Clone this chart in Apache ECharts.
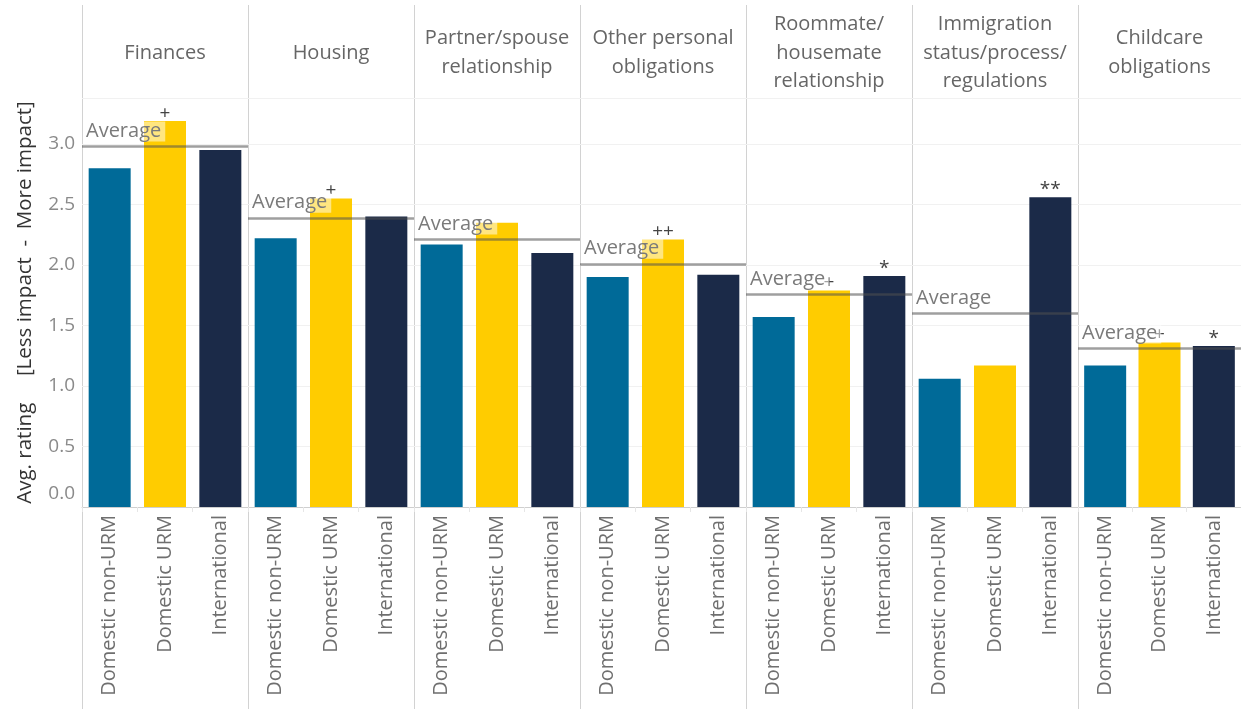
<!DOCTYPE html>
<html>
<head>
<meta charset="utf-8">
<script src="https://cdn.jsdelivr.net/npm/echarts@6/dist/echarts.min.js"></script>
<style>
  html, body { margin: 0; padding: 0; background: #fff; }
  #chart { width: 1241px; height: 709px; }
</style>
</head>
<body>
<div id="chart"></div>
<script>
// panels (columns) and groups (bars inside each panel)
const panels = ['Finances', 'Housing', 'Partner/spouse\nrelationship', 'Other personal\nobligations',
  'Roommate/\nhousemate\nrelationship', 'Immigration\nstatus/process/\nregulations', 'Childcare\nobligations'];
const groups = ['Domestic non-URM', 'Domestic URM', 'International'];
const nonUrm = [2.80, 2.22, 2.17, 1.90, 1.57, 1.06, 1.17];
const urm = [3.19, 2.55, 2.35, 2.21, 1.79, 1.17, 1.36];
const intl = [2.95, 2.40, 2.10, 1.92, 1.91, 2.56, 1.33];
const average = [2.98, 2.39, 2.21, 2.01, 1.76, 1.60, 1.31];
// significance markers shown above bars
const nonUrmMark = ['', '', '', '', '', '', ''];
const urmMark = ['+', '+', '', '++', '+', '', '+'];
const intlMark = ['', '', '', '', '*', '**', '*'];

const colors = ['#006a98', '#ffcc00', '#1b2a48'];
const font = '"Open Sans", "Noto Sans", sans-serif';

const chart = echarts.init(document.getElementById('chart'));

const x0 = 82, panelW = 166, gridTop = 98, axisY = 507;
let grids = [], xAxes = [], yAxes = [], series = [], graphics = [];

for (let i = 0; i < panels.length; i++) {
  let left = x0 + panelW * i;
  let w = i == panels.length - 1 ? 1241 - left : panelW;
  grids.push({ left: left, width: w, top: gridTop, bottom: 709 - axisY });
  xAxes.push({
    gridIndex: i,
    type: 'category',
    data: groups,
    axisLine: { lineStyle: { color: '#cfcfcf' } },
    axisTick: { show: true, length: 5, lineStyle: { color: '#e6e6e6' } },
    axisLabel: { rotate: 90, fontSize: 20, color: '#6f6f6f', fontFamily: font, margin: 8 }
  });
  yAxes.push({
    gridIndex: i,
    type: 'value',
    min: 0,
    max: 3.38,
    interval: 0.5,
    name: i == 0 ? 'Avg. rating     [Less impact  -  More impact]' : '',
    nameLocation: 'middle',
    nameGap: 46,
    nameTextStyle: { fontSize: 20.5, color: '#333', fontFamily: font },
    axisLine: { show: false },
    axisTick: { show: false },
    splitLine: { lineStyle: { color: '#f1f1f1' } },
    axisLabel: {
      show: i == 0,
      fontSize: 19,
      color: '#8a8a8a',
      fontFamily: font,
      margin: 7,
      formatter: function (v) {
        if (Math.abs(v * 2 - Math.round(v * 2)) > 1e-6) return '';
        return v == 0 ? '{z|0.0}' : v.toFixed(1);
      },
      rich: { z: { fontSize: 19, color: '#8a8a8a', fontFamily: font, padding: [0, 0, 26, 0] } }
    }
  });
  let vals = [nonUrm[i], urm[i], intl[i]];
  let marks = [nonUrmMark[i], urmMark[i], intlMark[i]];
  series.push({
    type: 'bar',
    xAxisIndex: i,
    yAxisIndex: i,
    barWidth: 42,
    data: vals.map((v, k) => ({
      value: v,
      itemStyle: { color: colors[k] },
      label: {
        show: marks[k] != '',
        position: 'top',
        distance: -2,
        formatter: marks[k],
        fontSize: 19,
        color: '#444',
        fontFamily: font
      }
    })),
    markLine: {
      silent: true,
      symbol: 'none',
      z: 10,
      lineStyle: { color: 'rgba(80,80,80,0.55)', width: 2.5, type: 'solid' },
      label: {
        show: true,
        position: 'insideStartTop',
        distance: [2, 5],
        formatter: 'Average',
        fontSize: 20,
        color: '#7a7a7a',
        fontFamily: font,
        backgroundColor: 'rgba(255,255,255,0.5)',
        padding: [0, 4, 0, 2]
      },
      data: [{ yAxis: average[i] }]
    }
  });
  // panel divider and header text
  graphics.push({
    type: 'line', silent: true,
    shape: { x1: left + 0.5, y1: 5, x2: left + 0.5, y2: 709 },
    style: { stroke: '#d2d2d2', lineWidth: 1 }
  });
  graphics.push({
    type: 'text', silent: true,
    x: left + w / 2, y: 53,
    style: {
      text: panels[i], fill: '#666', fontSize: 20, fontFamily: font,
      lineHeight: 28.5, align: 'center', verticalAlign: 'middle'
    }
  });
}
graphics.push({
  type: 'line', silent: true,
  shape: { x1: x0, y1: gridTop + 0.5, x2: 1241, y2: gridTop + 0.5 },
  style: { stroke: '#d2d2d2', lineWidth: 1 }
});

chart.setOption({
  animation: false,
  backgroundColor: '#fff',
  grid: grids,
  xAxis: xAxes,
  yAxis: yAxes,
  series: series,
  graphic: graphics
});
</script>
</body>
</html>
